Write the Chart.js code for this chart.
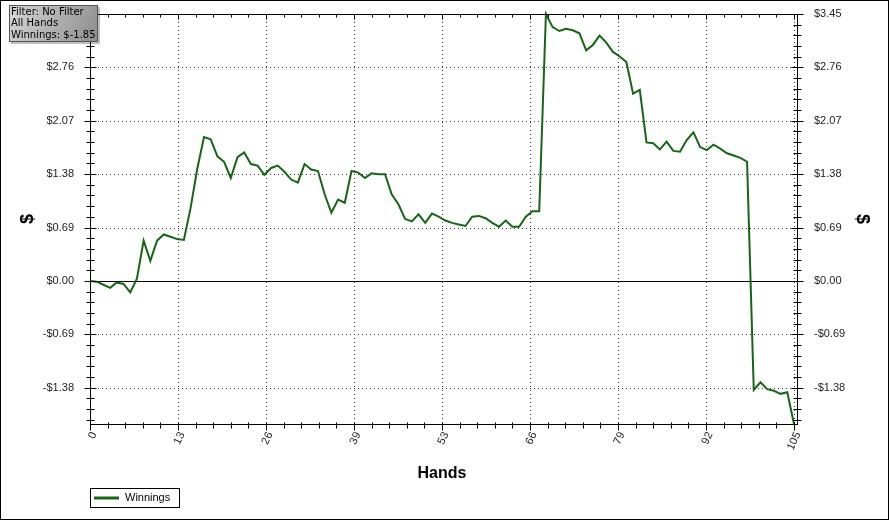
<!DOCTYPE html>
<html>
<head>
<meta charset="utf-8">
<script src="https://cdn.jsdelivr.net/npm/chart.js@4.4.0/dist/chart.umd.min.js"></script>
<style>
  html, body { margin: 0; padding: 0; background: #fff; }
  canvas { display: block; }
</style>
</head>
<body>
<canvas id="winningsChart" width="889" height="520"></canvas>
<script>
// Winnings per hand, hands 0..105
const winnings = [
  0.00, -0.01, -0.05, -0.09, -0.02, -0.04, -0.15, 0.03, 0.52, 0.26,
  0.52, 0.60, 0.57, 0.54, 0.53, 0.94, 1.45, 1.86, 1.83, 1.61,
  1.54, 1.33, 1.60, 1.66, 1.51, 1.49, 1.37, 1.46, 1.49, 1.41,
  1.31, 1.27, 1.51, 1.44, 1.42, 1.12, 0.88, 1.05, 1.01, 1.42,
  1.40, 1.33, 1.39, 1.38, 1.38, 1.12, 0.99, 0.80, 0.77, 0.86,
  0.75, 0.87, 0.83, 0.78, 0.75, 0.73, 0.71, 0.83, 0.84, 0.81,
  0.75, 0.70, 0.78, 0.70, 0.70, 0.83, 0.90, 0.90, 3.45, 3.28,
  3.23, 3.26, 3.24, 3.20, 2.98, 3.05, 3.17, 3.08, 2.96, 2.90,
  2.83, 2.42, 2.47, 1.79, 1.78, 1.70, 1.80, 1.68, 1.67, 1.82,
  1.92, 1.73, 1.69, 1.76, 1.71, 1.65, 1.62, 1.59, 1.54, -1.41,
  -1.31, -1.40, -1.42, -1.46, -1.44, -1.85
];

// axis ticks
const xTickValues = [0, 13.125, 26.25, 39.375, 52.5, 65.625, 78.75, 91.875, 105];
const xTickLabels = ['0', '13', '26', '39', '53', '66', '79', '92', '105'];
const yTickValues = [-1.38, -0.69, 0, 0.69, 1.38, 2.07, 2.76, 3.45];
const yMin = -1.85, yMax = 3.45;
const infoLines = ['Filter: No Filter', 'All Hands', 'Winnings: $-1.85'];

const lineColor = '#176617';
const tickFont = { family: 'Liberation Sans, Arial, sans-serif', size: 11 };

function money(v) {
  const a = Math.abs(v).toFixed(2);
  return v < 0 ? '-$' + a : '$' + a;
}

function noPad(s) {
  s.paddingTop = 0; s.paddingBottom = 0; s.paddingLeft = 0; s.paddingRight = 0;
}

const frame = {
  id: 'frame',
  beforeDraw(chart) {
    const c = chart.ctx;
    c.save();
    c.fillStyle = '#fff';
    c.fillRect(0, 0, chart.width, chart.height);
    c.restore();
  },
  beforeDatasetsDraw(chart) {
    const c = chart.ctx, a = chart.chartArea;
    const xs = chart.scales.x, ys = chart.scales.y;
    c.save();
    c.strokeStyle = '#333';
    c.lineWidth = 1;
    c.setLineDash([1, 3]);
    xs.ticks.forEach(t => {
      if (t.value === 0) return;
      const px = Math.round(xs.getPixelForValue(t.value)) + 0.5;
      c.beginPath(); c.moveTo(px, a.top); c.lineTo(px, a.bottom); c.stroke();
    });
    ys.ticks.forEach(t => {
      if (t.value === 0) return;
      const py = Math.round(ys.getPixelForValue(t.value)) + 0.5;
      c.beginPath(); c.moveTo(a.left, py); c.lineTo(a.right + 3, py); c.stroke();
    });
    c.setLineDash([]);
    c.strokeStyle = '#000';
    const zy = Math.round(ys.getPixelForValue(0)) + 0.5;
    c.beginPath(); c.moveTo(a.left, zy); c.lineTo(a.right + 3, zy); c.stroke();
    c.restore();
  },
  afterDraw(chart) {
    const c = chart.ctx, a = chart.chartArea;
    const xs = chart.scales.x, ys = chart.scales.y;
    const L = a.left + 0.5, R = a.right + 3.5, T = a.top + 0.5, B = a.bottom + 0.5;
    c.save();
    c.strokeStyle = '#000';
    c.lineWidth = 1;
    c.strokeRect(L, T, R - L, B - T);

    // x ticks (major and minor)
    for (let i = 0; i <= 40; i++) {
      const v = 105 * i / 40;
      const px = Math.round(xs.getPixelForValue(v)) + 0.5;
      const major = i % 5 === 0;
      c.beginPath();
      c.moveTo(px, B - 2); c.lineTo(px, B + (major ? 6 : 4));
      c.moveTo(px, T); c.lineTo(px, T + (major ? 5 : 3));
      c.stroke();
    }
    // y ticks (major and minor)
    for (let i = 0; i <= 38; i++) {
      const v = -1.38 + 0.138 * i;
      if (v > yMax + 0.001) break;
      const py = Math.round(ys.getPixelForValue(v)) + 0.5;
      const major = i % 5 === 0;
      const w = major ? 6 : 4;
      c.beginPath();
      c.moveTo(L - w, py); c.lineTo(L + w, py);
      c.moveTo(R - w, py); c.lineTo(R + w, py);
      c.stroke();
    }
    for (let v = -1.38 - 0.138; v > yMin; v -= 0.138) {
      const py = Math.round(ys.getPixelForValue(v)) + 0.5;
      c.beginPath();
      c.moveTo(L - 4, py); c.lineTo(L + 4, py);
      c.moveTo(R - 4, py); c.lineTo(R + 4, py);
      c.stroke();
    }

    // axis titles
    c.fillStyle = '#000';
    c.font = 'bold 16px "Liberation Sans", Arial, sans-serif';
    c.textAlign = 'center';
    c.textBaseline = 'middle';
    c.fillText('Hands', (a.left + a.right) / 2, 474);
    const my = (a.top + a.bottom) / 2;
    c.font = 'bold 18px "Liberation Sans", Arial, sans-serif';
    c.save(); c.translate(28, my); c.rotate(-Math.PI / 2); c.fillText('$', 0, 0); c.restore();
    c.save(); c.translate(862, my); c.rotate(Math.PI / 2); c.fillText('$', 0, 0); c.restore();

    // legend
    c.strokeRect(90.5, 488.5, 89, 19);
    c.strokeStyle = lineColor;
    c.lineWidth = 3;
    c.beginPath(); c.moveTo(94, 498); c.lineTo(119, 498); c.stroke();
    c.font = '11px "Liberation Sans", Arial, sans-serif';
    c.textAlign = 'left';
    c.fillText(chart.data.datasets[0].label, 125, 498);

    // outer border
    c.strokeStyle = '#000';
    c.lineWidth = 1;
    c.strokeRect(0.5, 0.5, chart.width - 1, chart.height - 1);

    // info box
    c.fillStyle = 'rgba(0,0,0,0.25)';
    c.fillRect(11, 7, 89, 37);
    const g = c.createLinearGradient(9, 5, 98, 42);
    g.addColorStop(0, '#d6d6d6');
    g.addColorStop(1, '#8c8c8c');
    c.fillStyle = g;
    c.fillRect(9, 5, 89, 37);
    c.strokeStyle = '#555';
    c.strokeRect(9.5, 5.5, 88, 36);
    c.fillStyle = '#000';
    c.font = '10px "DejaVu Sans", Verdana, sans-serif';
    c.textBaseline = 'middle';
    infoLines.forEach((s, i) => c.fillText(s, 11, 12 + i * 11.5));
    c.restore();
  }
};

const ctx = document.getElementById('winningsChart').getContext('2d');
new Chart(ctx, {
  type: 'line',
  data: {
    datasets: [{
      label: 'Winnings',
      data: winnings.map((v, i) => ({ x: i, y: v })),
      borderColor: lineColor,
      borderWidth: 2,
      pointRadius: 0,
      tension: 0,
      fill: false,
      clip: 3
    }]
  },
  options: {
    responsive: false,
    animation: false,
    layout: { padding: { top: 14, left: 0, right: 0, bottom: 0 } },
    plugins: { legend: { display: false }, tooltip: { enabled: false } },
    scales: {
      x: {
        type: 'linear', min: 0, max: 105,
        afterBuildTicks: s => { s.ticks = xTickValues.map(v => ({ value: v })); },
        afterFit: s => { s.height = 96; noPad(s); },
        grid: { display: false, drawTicks: false },
        border: { display: false },
        ticks: {
          autoSkip: false, minRotation: 65, maxRotation: 65,
          padding: 6, labelOffset: 4,
          font: tickFont, color: '#222',
          callback: (v, i) => xTickLabels[i]
        }
      },
      y: {
        position: 'left', min: yMin, max: yMax,
        afterBuildTicks: s => { s.ticks = yTickValues.map(v => ({ value: v })); },
        afterFit: s => { s.width = 90; noPad(s); },
        grid: { display: false, drawTicks: false },
        border: { display: false },
        ticks: { padding: 16, font: tickFont, color: '#222', callback: v => money(v) }
      },
      y2: {
        position: 'right', min: yMin, max: yMax,
        afterBuildTicks: s => { s.ticks = yTickValues.map(v => ({ value: v })); },
        afterFit: s => { s.width = 95; noPad(s); },
        grid: { display: false, drawTicks: false },
        border: { display: false },
        ticks: { padding: 20, font: tickFont, color: '#222', callback: v => money(v) }
      }
    }
  },
  plugins: [frame]
});
</script>
</body>
</html>
